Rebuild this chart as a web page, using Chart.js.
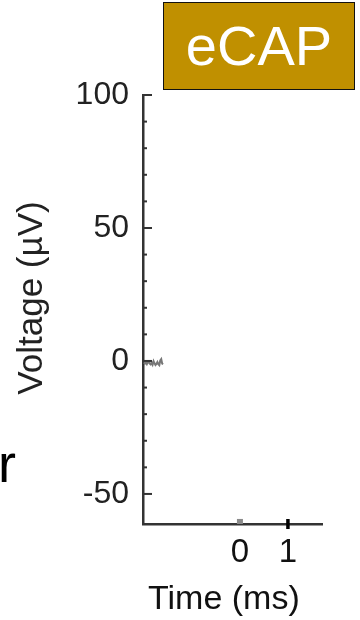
<!DOCTYPE html>
<html><head><meta charset="utf-8">
<script src="https://cdn.jsdelivr.net/npm/chart.js@4"></script>
<style>
html,body{margin:0;padding:0;background:#fff;}
#wrap{position:relative;width:360px;height:620px;overflow:hidden;font-family:"Liberation Sans",Arial,sans-serif;}
#box{position:absolute;left:163px;top:2px;width:190px;height:86px;background:#C09000;border:1.5px solid #111;box-sizing:content-box;
color:#fff;font-size:56px;line-height:86px;text-align:center;}
#r{position:absolute;left:-2px;top:433px;font-size:54px;color:#000;line-height:60px;}
#xt{position:absolute;left:148px;top:580px;font-size:34px;line-height:1;color:#111;white-space:nowrap;}
#yt{position:absolute;left:29px;top:298px;font-size:35px;line-height:1;color:#222;white-space:nowrap;transform:translate(-50%,-50%) rotate(-90deg);}
canvas{position:absolute;left:0;top:0;}
</style></head>
<body><div id="wrap"><canvas id="c" width="360" height="620"></canvas>
<div id="box">eCAP</div><div id="r">r</div>
<div id="xt">Time (ms)</div><div id="yt">Voltage (µV)</div></div>
<script>
// Data
const traceTime = [-2.00,-1.98,-1.96,-1.94,-1.92,-1.90,-1.88,-1.86,-1.84,-1.82,-1.80,-1.78,-1.76,-1.74,-1.72,-1.70,-1.68,-1.66,-1.64,-1.62,-1.60];
const traceVoltage = [-0.5,-1.0,-0.6,-1.2,-0.5,-0.3,-1.0,-1.3,-0.6,-1.4,-0.1,-0.9,-1.5,-1.1,-0.4,-1.2,-1.6,0.2,0.7,-1.0,-1.2];
const stimTime = [0, 0];
const stimVoltage = [-61.3, -59.4];
const yTickValues = [-50,-40,-30,-20,-10,0,10,20,30,40,50,60,70,80,90,100];
const yTickLabels = {"-50":"-50","0":"0","50":"50","100":"100"};
const xTickValues = [0, 1];
const xTickLabels = ["0","1"];

const FONT = '"Liberation Sans", Arial, sans-serif';
const axisColor = '#333';

const inwardTicks = {
  id:'inwardTicks',
  afterDraw(chart){
    const ctx = chart.ctx, y = chart.scales.y, x = chart.scales.x;
    ctx.save();
    ctx.strokeStyle = axisColor;
    ctx.lineWidth = 2;
    const ax = y.right;
    yTickValues.forEach(v=>{
      const py = y.getPixelForValue(v);
      const len = (v % 50 === 0) ? 9 : 4;
      ctx.beginPath(); ctx.moveTo(ax, py); ctx.lineTo(ax+len, py); ctx.stroke();
    });
    ctx.strokeStyle = '#000'; ctx.lineWidth = 3.5;
    const px = x.getPixelForValue(1);
    ctx.beginPath(); ctx.moveTo(px, x.top-5); ctx.lineTo(px, x.top+5); ctx.stroke();
    ctx.restore();
  }
};

new Chart(document.getElementById('c'), {
  type:'line',
  data:{
    datasets:[
      {data: traceTime.map((t,i)=>({x:t,y:traceVoltage[i]})), borderColor:'#777', borderWidth:2, pointRadius:0, tension:0},
      {data: stimTime.map((t,i)=>({x:t,y:stimVoltage[i]})), borderColor:'#8a8a8a', borderWidth:6, pointRadius:0, borderCapStyle:'butt'}
    ]
  },
  options:{
    responsive:false, animation:false,
    layout:{padding:{top:95,right:38,left:0,bottom:0}},
    plugins:{legend:{display:false},tooltip:{enabled:false}},
    scales:{
      x:{type:'linear', min:-2.02, max:1.71,
        afterFit(s){s.height=96;},
        afterBuildTicks(s){s.ticks = xTickValues.map(v=>({value:v}));},
        grid:{display:false},
        border:{display:true,color:axisColor,width:2.5},
        ticks:{color:'#111',font:{family:FONT,size:33},padding:1,maxRotation:0,autoSkip:false,
          callback:(v,i)=>xTickLabels[i]},
        title:{display:false}
      },
      y:{type:'linear', min:-61.3, max:100,
        afterFit(s){s.width=143;},
        afterBuildTicks(s){s.ticks = yTickValues.map(v=>({value:v}));},
        grid:{display:false},
        border:{display:true,color:axisColor,width:2.5},
        ticks:{color:'#222',font:{family:FONT,size:32},padding:6,autoSkip:false,
          callback:(v)=>yTickLabels[String(v)] ?? ''},
        title:{display:false}
      }
    }
  },
  plugins:[inwardTicks]
});
</script></body></html>
